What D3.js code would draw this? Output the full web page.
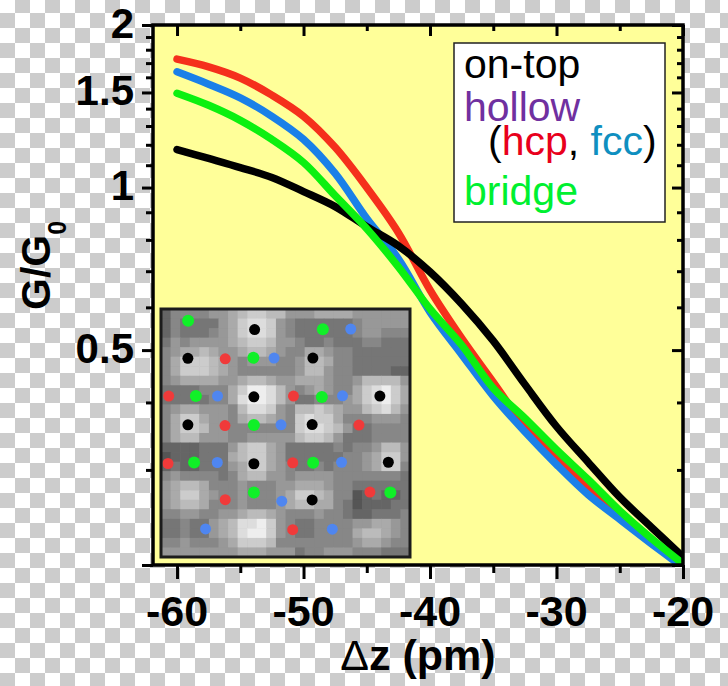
<!DOCTYPE html>
<html>
<head>
<meta charset="utf-8">
<script src="https://cdn.jsdelivr.net/npm/d3@7"></script>
<style>
  html, body { margin: 0; padding: 0; background: #fff; }
  svg { display: block; }
  text { font-family: "Liberation Sans", Arial, sans-serif; }
</style>
</head>
<body>
<script>
const w = 728;
const h = 686;

// delta z in pm, conductance in G0
const dz = [-60, -57.5, -55, -52.5, -50, -47.5, -45, -42.5, -40, -37.5, -35, -32.5, -30, -27.5, -25, -22.5, -20];
const onTop = [1.176, 1.132, 1.089, 1.044, 0.983, 0.922, 0.846, 0.780, 0.698, 0.609, 0.520, 0.432, 0.361, 0.310, 0.267, 0.235, 0.207];
const bridge = [1.495, 1.420, 1.332, 1.228, 1.113, 0.966, 0.839, 0.713, 0.596, 0.511, 0.425, 0.374, 0.327, 0.288, 0.252, 0.224, 0.201];
const fcc = [1.638, 1.554, 1.466, 1.355, 1.228, 1.062, 0.876, 0.738, 0.588, 0.491, 0.411, 0.353, 0.307, 0.270, 0.243, 0.219, 0.198];
const hcp = [1.729, 1.673, 1.595, 1.483, 1.355, 1.187, 1.000, 0.825, 0.646, 0.526, 0.436, 0.362, 0.316, 0.279, 0.247, 0.221, 0.200];

const xMajor = [-60, -50, -40, -30, -20];
const xMinor = [-55, -45, -35, -25];
const yMajor = [2, 1.5, 1, 0.5, 0.2];
const yMinor = [1.9, 1.8, 1.7, 1.6, 1.4, 1.3, 1.2, 1.1, 0.9, 0.8, 0.7, 0.6, 0.4, 0.3];
const yLabels = [2, 1.5, 1, 0.5];

// inset image, one digit per pixel block (0 dark .. 9 light)
const insetRows = [
  "13333445677664445555444444",
  "13222245788743222222344444",
  "13222345788743222222344333",
  "24344445677644322322233222",
  "34556544566543355433222222",
  "35777654344433466533222222",
  "35777654333333466433222211",
  "34555544566544555433466664",
  "22223335799864345433578975",
  "22222335899864223334578975",
  "34554443688743667654467864",
  "35775443566543787753334443",
  "35776443333333788764223333",
  "35664443344444677642223333",
  "11112224677542222232334664",
  "01112225677542222223345774",
  "12112224577543223233345773",
  "34333323566443444433333332",
  "45665333433344555433222222",
  "45775433433345776533012112",
  "45665333433345665532011122",
  "33443344566543334332112223",
  "22322456889743223333445543",
  "22322456899743223333566543",
  "33433345777633333333455433",
  "44444444555444233444333222"
];

// adsorption sites in the inset, percent of its width and height
const topSites = [[10.8, 19.9], [37.6, 8.3], [61, 19.8], [37.3, 35.4], [87.9, 35.1], [10.8, 46.7], [60.7, 46.6], [37.3, 62.4], [91.3, 61.8], [60.7, 77]];
const hcpSites = [[25.8, 20.1], [3.1, 35.1], [53.2, 35.1], [25.7, 47], [79.5, 46.8], [2.8, 62.3], [52.9, 62], [25.8, 76.9], [83.9, 73.8], [52.9, 89]];
const bridgeSites = [[10.9, 4.7], [65, 8.2], [37.1, 19.7], [14, 35.1], [64.6, 35.5], [37.3, 46.8], [13.3, 61.9], [61.1, 62], [37.3, 74], [92.1, 74]];
const fccSites = [[76.2, 8.1], [45.4, 19.8], [22.7, 35.1], [72.9, 35], [48.2, 46.7], [22.6, 61.9], [72.5, 61.8], [48.5, 77.5], [17.9, 88.7], [68.8, 88.8]];

const left = 153, right = 683, top_ = 25, bottom = 565;

const svg = d3.select('body').append('svg')
  .attr('width', w)
  .attr('height', h);

const defs = svg.append('defs');

// the transparency checkerboard baked into the picture
const pat = defs.append('pattern')
  .attr('id', 'checker')
  .attr('patternUnits', 'userSpaceOnUse')
  .attr('width', 30)
  .attr('height', 30)
  .attr('y', -2);
pat.append('rect').attr('width', 30).attr('height', 30).attr('fill', '#fff');
pat.append('rect').attr('x', 15).attr('y', 0).attr('width', 15).attr('height', 15).attr('fill', '#ccc');
pat.append('rect').attr('x', 0).attr('y', 15).attr('width', 15).attr('height', 15).attr('fill', '#ccc');
svg.append('rect').attr('width', w).attr('height', h).attr('fill', 'url(#checker)');

defs.append('filter').attr('id', 'soft')
  .append('feGaussianBlur').attr('stdDeviation', 0.7);
defs.append('clipPath').attr('id', 'plot')
  .append('rect').attr('x', left - 30).attr('y', top_).attr('width', right - left + 30).attr('height', bottom - top_);

const x = d3.scaleLinear().domain([-61.9, -20]).range([left, right]);
const y = d3.scaleLog().domain([0.2, 2]).range([bottom, top_]);

svg.append('rect')
  .attr('x', left).attr('y', top_)
  .attr('width', right - left).attr('height', bottom - top_)
  .attr('fill', '#ffff99');

// inset
const insetX = 161, insetY = 309, insetW = 249, insetH = 248;
const inset = svg.append('g').attr('transform', `translate(${insetX},${insetY})`);
const cols = d3.range(insetRows[0].length);
const rows = d3.range(insetRows.length);
const cx = d3.scaleBand().domain(cols).range([0, insetW]);
const cy = d3.scaleBand().domain(rows).range([0, insetH]);
const gray = d3.scaleLinear().domain([0, 9]).range([84, 238]);
const sx = d3.scaleLinear().domain([0, 100]).range([0, insetW]);
const sy = d3.scaleLinear().domain([0, 100]).range([0, insetH]);

inset.append('rect').attr('width', insetW).attr('height', insetH).attr('fill', '#888');
inset.append('g').attr('filter', 'url(#soft)')
  .selectAll('g.row')
  .data(insetRows)
  .enter().append('g')
  .attr('class', 'row')
  .attr('transform', (d, i) => `translate(0,${cy(i)})`)
  .selectAll('rect')
  .data(d => d.split(''))
  .enter().append('rect')
  .attr('x', (d, i) => cx(i))
  .attr('width', cx.bandwidth() + 0.5)
  .attr('height', cy.bandwidth() + 0.5)
  .attr('fill', d => { const g = Math.round(gray(+d)); return `rgb(${g},${g},${g})`; });

const sites = [
  { pts: topSites, fill: '#000', r: 5.5 },
  { pts: hcpSites, fill: '#f03a3a', r: 5.5 },
  { pts: bridgeSites, fill: '#10f028', r: 6 },
  { pts: fccSites, fill: '#4f86f0', r: 5.5 }
];
sites.forEach(s => {
  inset.selectAll(null)
    .data(s.pts)
    .enter().append('circle')
    .attr('cx', d => sx(d[0]))
    .attr('cy', d => sy(d[1]))
    .attr('r', s.r)
    .attr('fill', s.fill);
});
inset.append('rect')
  .attr('width', insetW).attr('height', insetH)
  .attr('fill', 'none').attr('stroke', '#1c1c1c').attr('stroke-width', 3);

// curves
const line = d3.line()
  .x((d, i) => x(dz[i]))
  .y(d => y(d))
  .curve(d3.curveCatmullRom);

const curves = [
  { values: hcp, color: '#f5301c' },
  { values: fcc, color: '#1a80e8' },
  { values: onTop, color: '#000' },
  { values: bridge, color: '#0cf010' }
];
svg.append('g').attr('clip-path', 'url(#plot)')
  .selectAll('path.curve')
  .data(curves)
  .enter().append('path')
  .attr('class', 'curve')
  .attr('d', d => line(d.values))
  .attr('fill', 'none')
  .attr('stroke', d => d.color)
  .attr('stroke-width', 7.5)
  .attr('stroke-linecap', 'round');

// axes, ticks out on the left and bottom, in on the top and right
function drawAxis(axis, tx, ty) {
  const g = svg.append('g').attr('transform', `translate(${tx},${ty})`).call(axis);
  g.select('.domain').remove();
  g.selectAll('line').attr('stroke', '#000').attr('stroke-width', 3);
  g.selectAll('text').remove();
}
drawAxis(d3.axisLeft(y).tickValues(yMajor).tickSize(11).tickFormat(''), left, 0);
drawAxis(d3.axisLeft(y).tickValues(yMinor).tickSize(7).tickFormat(''), left, 0);
drawAxis(d3.axisRight(y).tickValues(yMajor).tickSize(-11).tickFormat(''), right, 0);
drawAxis(d3.axisRight(y).tickValues(yMinor).tickSize(-6).tickFormat(''), right, 0);
drawAxis(d3.axisBottom(x).tickValues(xMajor).tickSize(14).tickFormat(''), 0, bottom);
drawAxis(d3.axisBottom(x).tickValues(xMinor).tickSize(8).tickFormat(''), 0, bottom);
drawAxis(d3.axisTop(x).tickValues(xMajor).tickSize(-11).tickFormat(''), 0, top_);
drawAxis(d3.axisTop(x).tickValues(xMinor).tickSize(-6).tickFormat(''), 0, top_);

svg.append('rect')
  .attr('x', left).attr('y', top_)
  .attr('width', right - left).attr('height', bottom - top_)
  .attr('fill', 'none').attr('stroke', '#000').attr('stroke-width', 3.5);

// tick labels
svg.selectAll('text.xlab')
  .data(xMajor)
  .enter().append('text')
  .attr('class', 'xlab')
  .attr('x', d => x(d))
  .attr('y', 626)
  .attr('text-anchor', 'middle')
  .attr('font-size', 43)
  .attr('font-weight', 'bold')
  .text(d => d);

svg.selectAll('text.ylab')
  .data(yLabels)
  .enter().append('text')
  .attr('class', 'ylab')
  .attr('x', 134)
  .attr('y', d => y(d) + 12.5)
  .attr('text-anchor', 'end')
  .attr('font-size', 42)
  .attr('font-weight', 'bold')
  .text(d => d);

// axis titles
const xTitle = svg.append('text')
  .attr('x', 418).attr('y', 670)
  .attr('text-anchor', 'middle')
  .attr('font-size', 43)
  .attr('font-weight', 'bold');
xTitle.append('tspan').attr('font-weight', 'normal').text('\u0394');
xTitle.append('tspan').text('z (pm)');

const yTitle = svg.append('text')
  .attr('transform', 'translate(50,310) rotate(-90)')
  .attr('font-size', 41)
  .attr('font-weight', 'bold');
yTitle.append('tspan').text('G/G');
yTitle.append('tspan').attr('font-size', 25).attr('dy', 16).text('0');

// legend
svg.append('rect')
  .attr('x', 454).attr('y', 43)
  .attr('width', 211).attr('height', 179)
  .attr('fill', '#fff').attr('stroke', '#222').attr('stroke-width', 1.5);

function legendLine(px, py, parts) {
  const t = svg.append('text').attr('x', px).attr('y', py).attr('font-size', 41);
  parts.forEach(p => t.append('tspan').attr('fill', p[1]).text(p[0]));
}
legendLine(464, 78, [['on-top', '#000']]);
legendLine(464, 121, [['hollow', '#7030a0']]);
legendLine(488, 155, [['(', '#000'], ['hcp', '#e8001c'], [', ', '#000'], ['fcc', '#0f8fc0'], [')', '#000']]);
legendLine(464, 205, [['bridge', '#00f030']]);
</script>
</body>
</html>
